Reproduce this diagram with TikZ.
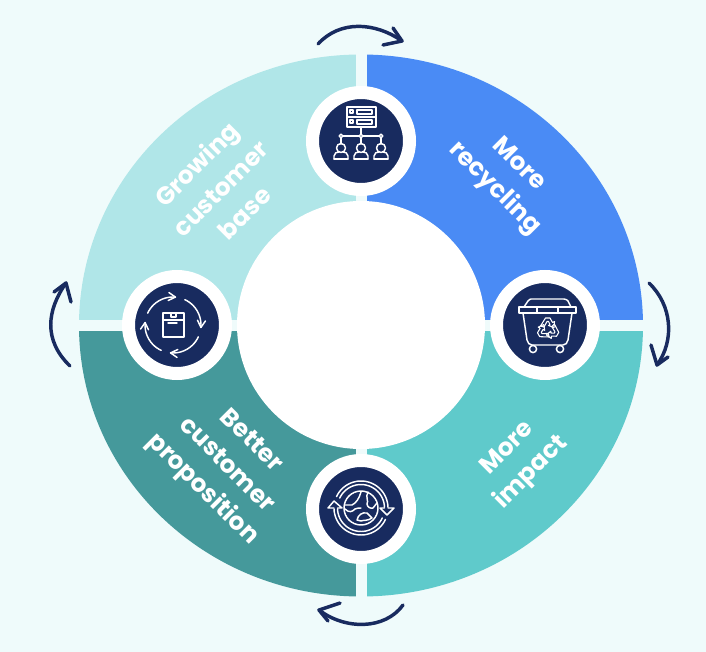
\documentclass[tikz,border=0pt]{standalone}
\usepackage{fontspec}
\setmainfont[BoldFont={Poppins Bold}]{Poppins}
\usepackage{tikz}
\usetikzlibrary{positioning}
\definecolor{pagebg}{HTML}{EFFBFB}
\definecolor{lightteal}{HTML}{B0E6E8}
\definecolor{brightblue}{HTML}{4A8BF5}
\definecolor{midteal}{HTML}{5FCACB}
\definecolor{darkteal}{HTML}{45999B}
\definecolor{navy}{HTML}{182B5F}
\tikzset{
ring/.style={circle,draw=white,fill=navy,line width=9.75pt,minimum size=72.75pt,inner sep=0pt,outer sep=0pt},
label/.style={text=white,font=\bfseries\fontsize{18.5}{25.5}\selectfont,align=center,inner sep=0pt},
flow/.style={draw=navy,line width=2.6pt,line cap=round,line join=round},
icon/.style={draw=white,line width=1.1pt,line cap=round,line join=round},
}
\begin{document}
\begin{tikzpicture}[x=0.75pt,y=-0.75pt]
\useasboundingbox (0,0) rectangle (706,652);
\fill[pagebg] (0,0) rectangle (706,652);
\begin{scope}
\clip (361,325.5) ellipse [x radius=282,y radius=271];
\fill[lightteal] (70,40) rectangle (361,325.5);
\fill[brightblue] (361,40) rectangle (650,325.5);
\fill[darkteal] (70,325.5) rectangle (361,600);
\fill[midteal] (361,325.5) rectangle (650,600);
\end{scope}
\fill[pagebg] (355.5,50) rectangle (366.5,600);
\fill[pagebg] (70,320) rectangle (650,331);
\fill[white] (361,325) circle [radius=124];
\node (topring) [ring] at (361,141) {};
\node (rightring) [ring] at (545,325) {};
\node (bottomring) [ring] at (361,509) {};
\node (leftring) [ring] at (177,325) {};
\node (growing) [label,rotate=45] at (220,188) {Growing\\customer\\base};
\node (recycling) [label,rotate=-45] at (506,177) {More\\recycling};
\node (impact) [label,rotate=45] at (520,461) {More\\impact};
\node (better) [label,rotate=-45] at (226,466) {Better\\customer\\proposition};
% arrows round the ring
\coordinate (topA) at (318,44);
\coordinate (topB) at (402,41);
\coordinate (rightA) at (649,283);
\coordinate (rightB) at (657,365);
\coordinate (bottomA) at (403,605);
\coordinate (bottomB) at (319,610);
\coordinate (leftA) at (70,366);
\coordinate (leftB) at (66,283);
\draw[flow] (topA) .. controls (340,20) and (375,22) .. (topB);
\draw[flow] (393,28) -- (topB) -- (383,45);
\draw[flow] (rightA) .. controls (672,305) and (675,340) .. (rightB);
\draw[flow] (651,345) -- (rightB) -- (668,357);
\draw[flow] (bottomA) .. controls (385,630) and (345,630) .. (bottomB);
\draw[flow] (340,603) -- (bottomB) -- (328,621);
\draw[flow] (leftA) .. controls (43,340) and (47,310) .. (leftB);
\draw[flow] (54,292) -- (leftB) -- (71,302);
% people and server
\begin{scope}[shift={(361,141)}]
\draw[icon] (-14,-34) rectangle (15,-14);
\draw[icon] (-14,-24) -- (15,-24);
\draw[icon] (-11,-31) rectangle (-8,-28);
\draw[icon] (-11,-21) rectangle (-8,-18);
\draw[icon] (-4,-31) rectangle (11,-27);
\draw[icon] (-4,-21) rectangle (11,-17);
\draw[icon] (0,-14) -- (0,-5);
\draw[icon] (-20,-5) -- (20,-5);
\foreach \x in {-20,0,20} {
\draw[icon,fill=navy] (\x,-5) circle [radius=1.8];
\draw[icon] (\x,-3) -- (\x,3);
\draw[icon] (\x,7) circle [radius=4.5];
\draw[icon] (\x-7,18) -- (\x-7,15) .. controls (\x-7,12) and (\x-4,11) .. (\x-2,11);
\draw[icon] (\x+7,18) -- (\x+7,15) .. controls (\x+7,12) and (\x+4,11) .. (\x+2,11);
\draw[icon] (\x-7,18) -- (\x+7,18);
}
\end{scope}
% bin
\begin{scope}[shift={(545,325)}]
\draw[icon] (-26,-18) rectangle (31,-12);
\draw[icon] (-8,-18) -- (-8,-12);
\draw[icon] (13,-18) -- (13,-12);
\draw[icon] (-21,-18) -- (-17,-24) .. controls (-16,-25) and (-15,-26) .. (-14,-26) -- (19,-26) .. controls (21,-26) and (22,-25) .. (23,-24) -- (26,-18);
\draw[icon] (-22,-12) -- (-18,15) .. controls (-17,18) and (-16,20) .. (-13,20) -- (18,20) .. controls (21,20) and (22,18) .. (23,15) -- (27,-12);
\draw[icon] (-12,24) circle [radius=3.6];
\draw[icon] (15,24) circle [radius=3.6];
\foreach \a in {0,120,240} {
\begin{scope}[shift={(3,4)},rotate=\a]
\draw[icon,line width=0.8pt] (-7.5,-3) -- (-2.5,-11) -- (2,-11) -- (4.5,-6.5) -- (6.5,-7.5) -- (6,-1.5) -- (0.5,-3.5) -- (2,-4.5) -- (0.5,-7.5) -- (-1,-7.5) -- (-4,-2) -- cycle;
\end{scope}
}
\end{scope}
% globe
\begin{scope}[shift={(361,509)}]
\draw[icon] (0,-1) circle [radius=17];
\draw[icon] plot[domain=205:358,samples=30] ({27*cos(\x)},{-1+27*sin(\x)});
\draw[icon] plot[domain=205:358,samples=30] ({23.5*cos(\x)},{-1+23.5*sin(\x)});
\draw[icon] plot[domain=25:178,samples=30] ({27*cos(\x)},{-1+27*sin(\x)});
\draw[icon] plot[domain=25:178,samples=30] ({23.5*cos(\x)},{-1+23.5*sin(\x)});
\draw[icon] (-23.5,-1) -- (-19,-1) -- (-27,-8) -- (-33,-1) -- (-27,-1);
\draw[icon] (23.5,-1) -- (19,-1) -- (26,6) -- (33,-1) -- (27,-1);
\draw[icon] (-16,-4) -- (-9,-4) .. controls (-5,-6) and (-2,-10) .. (0,-17);
\draw[icon] (-16,0) .. controls (-12,4) and (-9,3) .. (-6,0) .. controls (-4,-1) and (-2,-1) .. (0,-1);
\draw[icon] (7,-17) .. controls (4,-12) and (8,-8) .. (6,-5) .. controls (6,-2) and (10,0) .. (12,-1) -- (16,-6);
\draw[icon] (-4,11) .. controls (-3,6) and (1,3) .. (6,4) -- (11,9) .. controls (7,12) and (2,11) .. (0,12) -- cycle;
\end{scope}
% box and cycle
\begin{scope}[shift={(177,325)}]
\draw[icon] (-14,-12) rectangle (7,12);
\draw[icon] (-14,-5) -- (7,-5);
\draw[icon] (-6,-12) -- (-6,-8) -- (-1,-8) -- (-1,-12);
\draw[icon] (-9,-2) -- (0,-2);
\foreach \a in {-155,-65,25,115} {
\draw[icon] plot[domain=\a:\a+70,samples=14] ({-4+28*cos(\x)},{28*sin(\x)});
\draw[icon] ({-4+28*cos(\a+70)+8*cos(\a+70+240)},{28*sin(\a+70)+8*sin(\a+70+240)}) -- ({-4+28*cos(\a+70)},{28*sin(\a+70)}) -- ({-4+28*cos(\a+70)+8*cos(\a+70-60)},{28*sin(\a+70)+8*sin(\a+70-60)});
}
\end{scope}
\end{tikzpicture}
\end{document}
